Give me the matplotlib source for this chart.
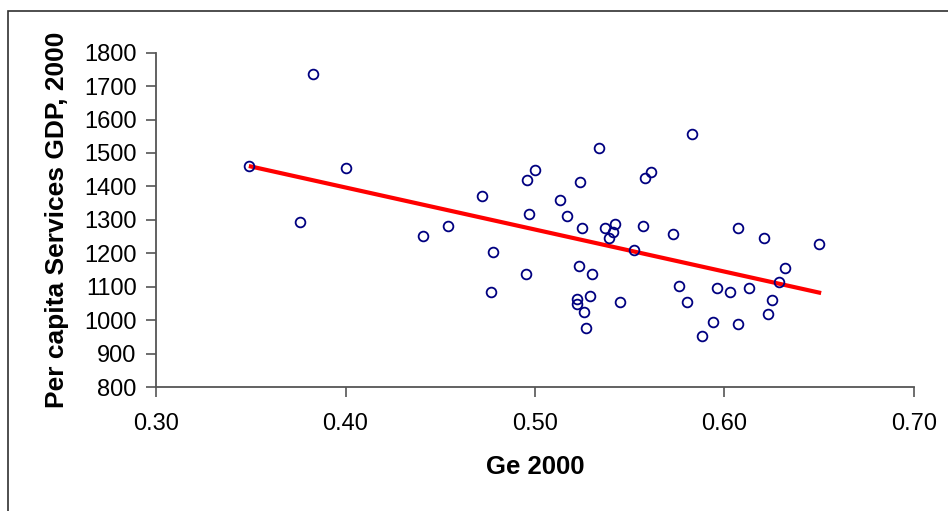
import matplotlib
matplotlib.use('Agg')
import numpy as np
from matplotlib import pyplot as plt
from matplotlib.patches import Rectangle

plt.rcParams['font.family'] = ['Liberation Sans', 'DejaVu Sans']

# Ge 2000 vs per capita services GDP
ge = [0.349, 0.383, 0.400, 0.376, 0.441, 0.454, 0.472, 0.478, 0.477, 0.496,
      0.500, 0.497, 0.495, 0.513, 0.517, 0.524, 0.525, 0.534, 0.523, 0.530,
      0.522, 0.522, 0.526, 0.529, 0.527, 0.537, 0.542, 0.541, 0.539, 0.545,
      0.552, 0.557, 0.558, 0.561, 0.583, 0.573, 0.576, 0.580, 0.588, 0.594,
      0.596, 0.603, 0.607, 0.607, 0.613, 0.621, 0.623, 0.625, 0.629, 0.632,
      0.650]
gdp = [1461, 1736, 1455, 1294, 1252, 1283, 1372, 1205, 1085, 1420,
       1450, 1318, 1139, 1360, 1312, 1414, 1277, 1516, 1163, 1139,
       1063, 1049, 1025, 1073, 977, 1277, 1288, 1265, 1247, 1055,
       1211, 1282, 1426, 1444, 1558, 1259, 1102, 1055, 953, 995,
       1096, 1085, 1277, 988, 1097, 1247, 1019, 1061, 1115, 1156,
       1229]

# trend line end points
trend_x = [0.349, 0.651]
trend_y = [1461, 1081]

fig = plt.figure(figsize=(9.48, 5.11), dpi=100)
ax = fig.add_axes([156/948, 1-387/511, (914-156)/948, (387-52.7)/511])

# outer chart border (runs off the right and bottom)
fig.patches.append(Rectangle((8/948, -0.1), 1.1, 1 - 10.7/511 + 0.1,
                             transform=fig.transFigure, fill=False,
                             edgecolor='#303030', linewidth=1.2))

ax.plot(trend_x, trend_y, color='red', linewidth=3, solid_capstyle='butt', zorder=2)
ax.plot(ge, gdp, 'o', markerfacecolor='none', markeredgecolor='#000080',
        markersize=7, markeredgewidth=1.3, zorder=3)

ax.set_xlim(0.30, 0.70)
ax.set_ylim(800, 1800)
ax.set_xticks(np.arange(0.30, 0.701, 0.10))
ax.set_yticks(np.arange(800, 1801, 100))
ax.set_xticklabels(['%.2f' % v for v in np.arange(0.30, 0.701, 0.10)])

for s in ['top', 'right']:
    ax.spines[s].set_visible(False)
for s in ['left', 'bottom']:
    ax.spines[s].set_color('#555555')
    ax.spines[s].set_linewidth(1.3)

ax.tick_params(axis='both', direction='out', length=7, width=1.2, color='#555555',
               labelsize=17)
ax.tick_params(axis='y', pad=7)
ax.tick_params(axis='x', pad=12)

ax.set_xlabel('Ge 2000', fontsize=18.5, fontweight='bold', labelpad=14)
ax.set_ylabel('Per capita Services GDP, 2000', fontsize=19, fontweight='bold', labelpad=11)

plt.savefig('out.png', dpi=100)
